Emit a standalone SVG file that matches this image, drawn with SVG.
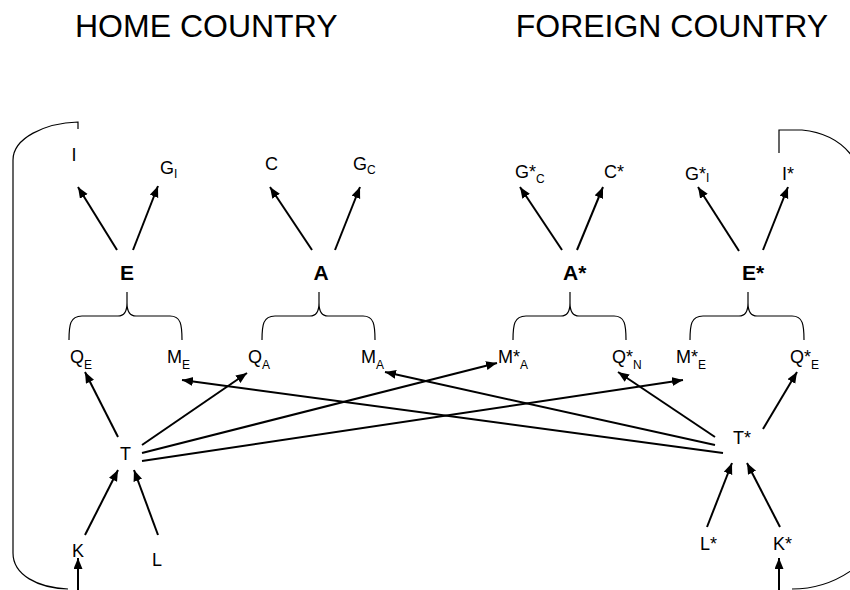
<svg xmlns="http://www.w3.org/2000/svg" width="850" height="590" viewBox="0 0 850 590">
<style>
text{font-family:"Liberation Sans",Arial,sans-serif;fill:#000}
.lab{font-size:18px}
.big{font-size:21px;font-weight:bold}
.title{font-size:32px}
.sub{font-size:12px}
.arr{stroke:#000;stroke-width:2;fill:none;marker-end:url(#ah)}
.thin{stroke:#000;stroke-width:1.2;fill:none}
</style>
<defs>
<marker id="ah" markerUnits="userSpaceOnUse" markerWidth="12" markerHeight="10" refX="11" refY="4.5" orient="auto">
<path d="M0,0 L11,4.5 L0,9 z" fill="#000"/>
</marker>
</defs>
<rect width="850" height="590" fill="#fff"/>
<g id="titles">
<text class="title" x="75" y="37">HOME COUNTRY</text>
<text class="title" x="828" y="37" text-anchor="end">FOREIGN COUNTRY</text>
</g>
<g id="brackets">
<path class="thin" d="M78,129 V122 C45,123 13,138 13,160 V553 C13,575 38,588 68,589"/>
<path class="thin" d="M779,153 V130 H802 C822,132 840,140 852,156"/>
<path class="thin" d="M792,589 C815,589 835,582 852,570"/>
</g>
<g id="braces">
<path class="thin" d="M69,340 C69,325 70,316 82,316 H118 C124,316 127,312 127,303 V292 M127,303 C127,312 130,316 136,316 H170 C181,316 182,325 182,340"/>
<path class="thin" d="M262,340 C262,325 263,316 275,316 H310 C316,316 319,312 319,303 V292 M319,303 C319,312 322,316 328,316 H363 C374,316 375,325 375,340"/>
<path class="thin" d="M513,340 C513,325 514,316 526,316 H561 C567,316 570,312 570,303 V292 M570,303 C570,312 573,316 579,316 H614 C625,316 626,325 626,340"/>
<path class="thin" d="M690,340 C690,325 691,316 703,316 H739 C745,316 748,312 748,303 V292 M748,303 C748,312 751,316 757,316 H792 C803,316 804,325 804,340"/>
</g>
<g id="connectors">
<line class="arr" x1="117" y1="250" x2="78" y2="187"/>
<line class="arr" x1="133" y1="250" x2="158" y2="186"/>
<line class="arr" x1="312" y1="250" x2="270" y2="187"/>
<line class="arr" x1="335" y1="250" x2="360" y2="187"/>
<line class="arr" x1="562" y1="250" x2="520" y2="187"/>
<line class="arr" x1="577" y1="250" x2="603" y2="187"/>
<line class="arr" x1="739" y1="251" x2="698" y2="187"/>
<line class="arr" x1="763" y1="250" x2="788" y2="187"/>
<line class="arr" x1="118" y1="437" x2="85" y2="372"/>
<line class="arr" x1="142" y1="445" x2="247" y2="373"/>
<line class="arr" x1="142" y1="453" x2="497" y2="363"/>
<line class="arr" x1="142" y1="461" x2="683" y2="380"/>
<line class="arr" x1="715" y1="437" x2="618" y2="372"/>
<line class="arr" x1="715" y1="445" x2="385" y2="372"/>
<line class="arr" x1="723" y1="453" x2="182" y2="380"/>
<line class="arr" x1="763" y1="429" x2="797" y2="372"/>
<line class="arr" x1="85" y1="535" x2="118" y2="470"/>
<line class="arr" x1="158" y1="535" x2="134" y2="470"/>
<line class="arr" x1="707" y1="527" x2="732" y2="463"/>
<line class="arr" x1="780" y1="527" x2="747" y2="463"/>
<line class="arr" x1="78" y1="592" x2="78" y2="558"/>
<line class="arr" x1="779" y1="592" x2="779" y2="558"/>
</g>
<g id="node-I"><text class="lab" x="74" y="161" text-anchor="middle">I</text></g>
<g id="node-GI"><text class="lab" x="160" y="174">G<tspan class="sub" dy="4">I</tspan></text></g>
<g id="node-C"><text class="lab" x="265" y="170">C</text></g>
<g id="node-GC"><text class="lab" x="353" y="170">G<tspan class="sub" dy="4">C</tspan></text></g>
<g id="node-GsC"><text class="lab" x="515" y="178">G*<tspan class="sub" dy="5">C</tspan></text></g>
<g id="node-Cs"><text class="lab" x="604" y="178">C*</text></g>
<g id="node-GsI"><text class="lab" x="685" y="180">G*<tspan class="sub" dy="2">I</tspan></text></g>
<g id="node-Is"><text class="lab" x="782" y="180">I*</text></g>
<g id="node-E"><text class="big" x="127" y="280" text-anchor="middle">E</text></g>
<g id="node-A"><text class="big" x="321" y="280" text-anchor="middle">A</text></g>
<g id="node-As"><text class="big" x="563" y="280">A*</text></g>
<g id="node-Es"><text class="big" x="742" y="280">E*</text></g>
<g id="node-QE"><text class="lab" x="70" y="363">Q<tspan class="sub" dy="6">E</tspan></text></g>
<g id="node-ME"><text class="lab" x="167" y="363">M<tspan class="sub" dy="6">E</tspan></text></g>
<g id="node-QA"><text class="lab" x="248" y="363">Q<tspan class="sub" dy="6">A</tspan></text></g>
<g id="node-MA"><text class="lab" x="361" y="363">M<tspan class="sub" dy="6">A</tspan></text></g>
<g id="node-MsA"><text class="lab" x="498" y="363">M*<tspan class="sub" dy="6">A</tspan></text></g>
<g id="node-QsN"><text class="lab" x="612" y="363">Q*<tspan class="sub" dy="6">N</tspan></text></g>
<g id="node-MsE"><text class="lab" x="676" y="363">M*<tspan class="sub" dy="6">E</tspan></text></g>
<g id="node-QsE"><text class="lab" x="790" y="363">Q*<tspan class="sub" dy="6">E</tspan></text></g>
<g id="node-T"><text class="lab" x="120" y="460">T</text></g>
<g id="node-Ts"><text class="lab" x="733" y="444">T*</text></g>
<g id="node-K"><text class="lab" x="72" y="557">K</text></g>
<g id="node-L"><text class="lab" x="152" y="566">L</text></g>
<g id="node-Ls"><text class="lab" x="700" y="550">L*</text></g>
<g id="node-Ks"><text class="lab" x="773" y="550">K*</text></g>
</svg>
